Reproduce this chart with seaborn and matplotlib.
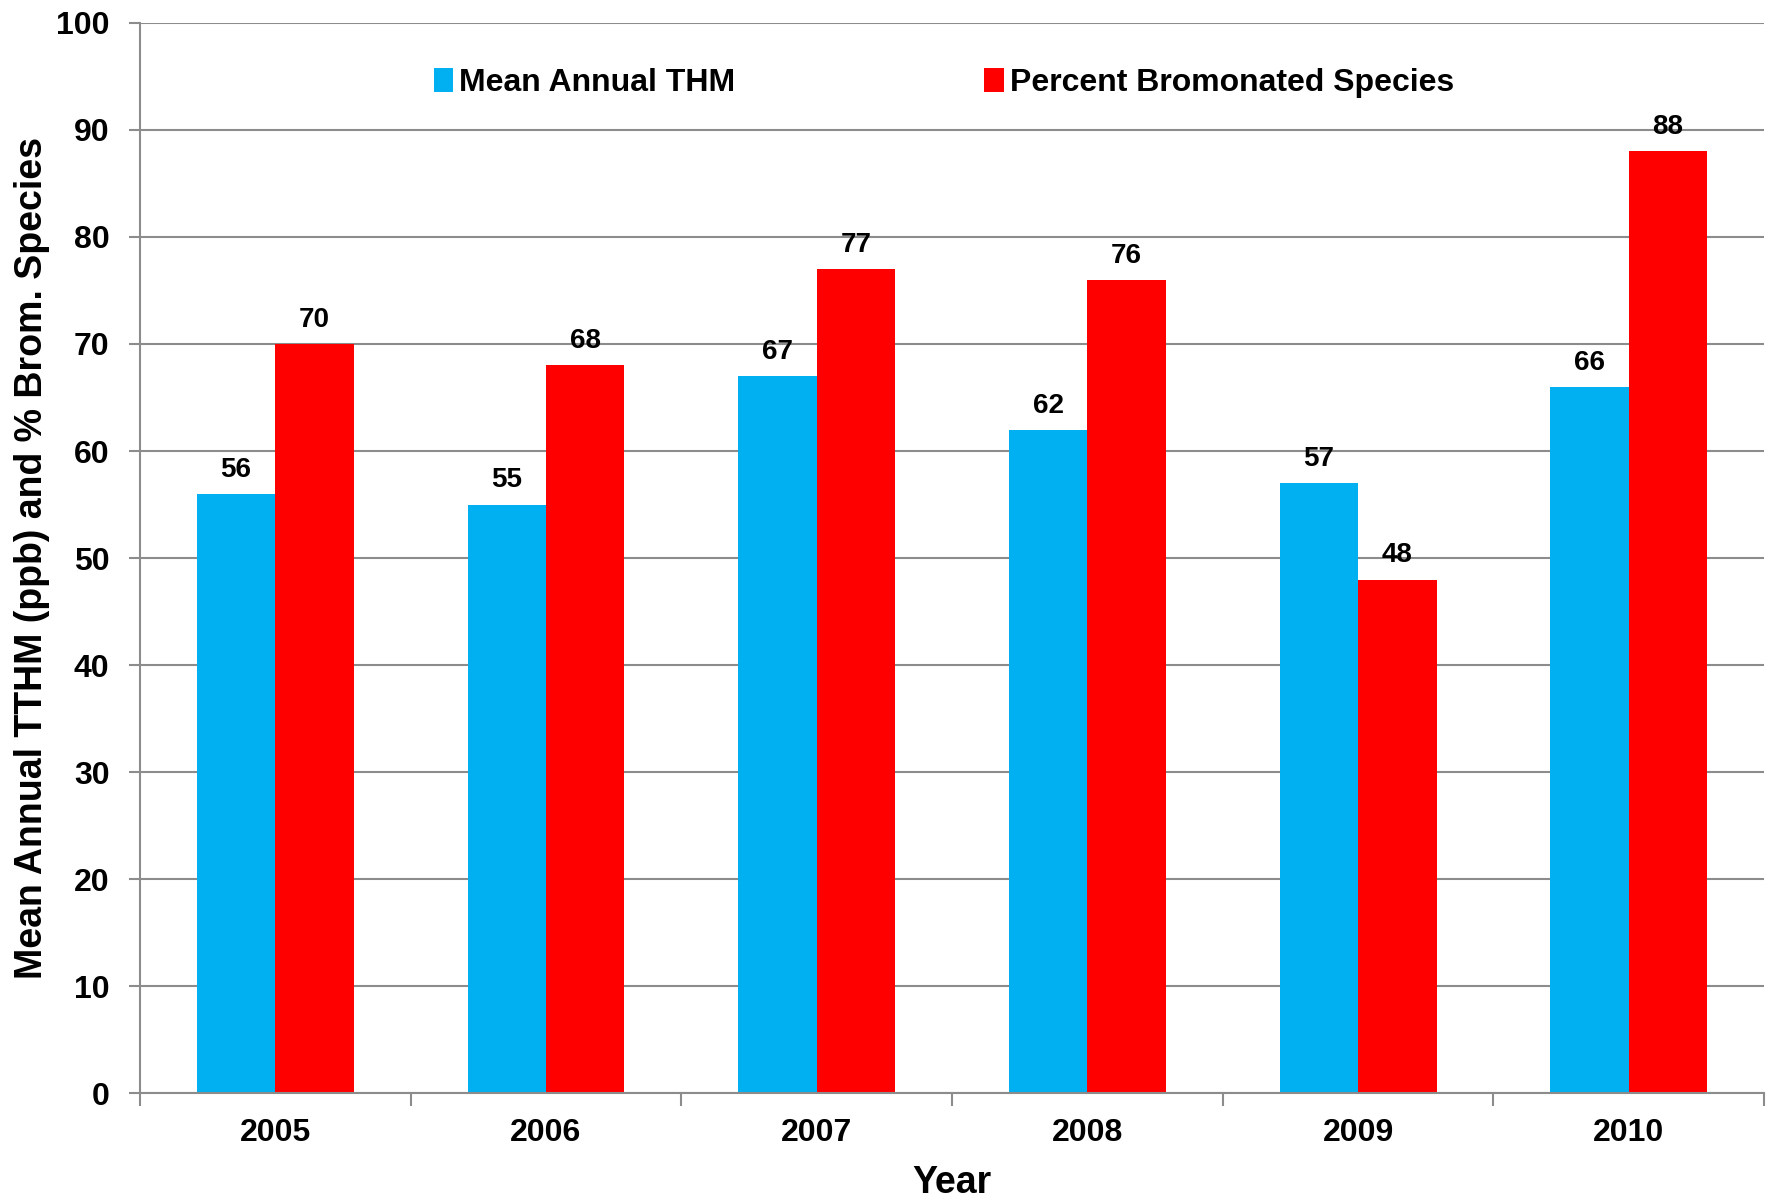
import pandas as pd
import matplotlib.pyplot as plt
import seaborn as sns
from matplotlib.ticker import FixedLocator

sns.set_style("white")
plt.rcParams['font.family'] = ['Liberation Sans', 'DejaVu Sans']
plt.rcParams['font.weight'] = 'bold'
plt.rcParams['text.color'] = 'black'
plt.rcParams['axes.labelcolor'] = 'black'
plt.rcParams['xtick.color'] = 'black'
plt.rcParams['ytick.color'] = 'black'

# =====================
# Data
# =====================
years = ['2005', '2006', '2007', '2008', '2009', '2010']
mean_thm = [56, 55, 67, 62, 57, 66]
pct_brom = [70, 68, 77, 76, 48, 88]
series_names = ['Mean Annual THM', 'Percent Bromonated Species']
colors = ['#00B0F0', '#FF0000']

df = pd.DataFrame({
    'Year': years * 2,
    'Value': mean_thm + pct_brom,
    'Series': [series_names[0]] * len(years) + [series_names[1]] * len(years),
})

# =====================
# Plot
# =====================
fig = plt.figure(figsize=(17.72, 11.99), dpi=100)
ax = fig.add_axes([0.079, 0.088, 0.9165, 0.893])

sns.barplot(data=df, x='Year', y='Value', hue='Series', palette=colors,
            width=0.58, gap=0, saturation=1, ax=ax, errorbar=None, linewidth=0)

for cont in ax.containers:
    ax.bar_label(cont, fmt='%d', padding=8, fontsize=20, fontweight='bold',
                 color='black')

ax.set_ylim(0, 100)
ax.set_xlim(-0.5, len(years) - 0.5)
ax.set_yticks(range(0, 101, 10))
ax.yaxis.grid(True, color='#8c8c8c', linewidth=1.5)
ax.set_axisbelow(True)

for side in ['top', 'right']:
    ax.spines[side].set_visible(False)
for side in ['left', 'bottom']:
    ax.spines[side].set_color('#8c8c8c')
    ax.spines[side].set_linewidth(1.5)

ax.tick_params(axis='y', which='major', direction='out', length=8, width=1.5,
               color='#8c8c8c', labelsize=23, pad=14, left=True,
               labelcolor='black')
ax.tick_params(axis='x', which='major', length=0, labelsize=23, pad=18,
               labelcolor='black')
ax.xaxis.set_minor_locator(FixedLocator([i - 0.5 for i in range(len(years) + 1)]))
ax.tick_params(axis='x', which='minor', direction='out', length=9, width=1.5,
               color='#8c8c8c', bottom=True)
for lbl in ax.get_xticklabels() + ax.get_yticklabels():
    lbl.set_fontweight('bold')

ax.set_xlabel('Year', fontsize=27, fontweight='bold', labelpad=12)
ax.set_ylabel('Mean Annual TTHM (ppb) and % Brom. Species', fontsize=27,
              fontweight='bold', labelpad=4)

ax.legend(loc='upper center', bbox_to_anchor=(0.495, 0.985), ncol=2, frameon=False,
          handlelength=0.6, handleheight=0.8, handletextpad=0.2,
          columnspacing=7.8, prop={'weight': 'bold', 'size': 23})

fig.savefig('out.png', dpi=100)
